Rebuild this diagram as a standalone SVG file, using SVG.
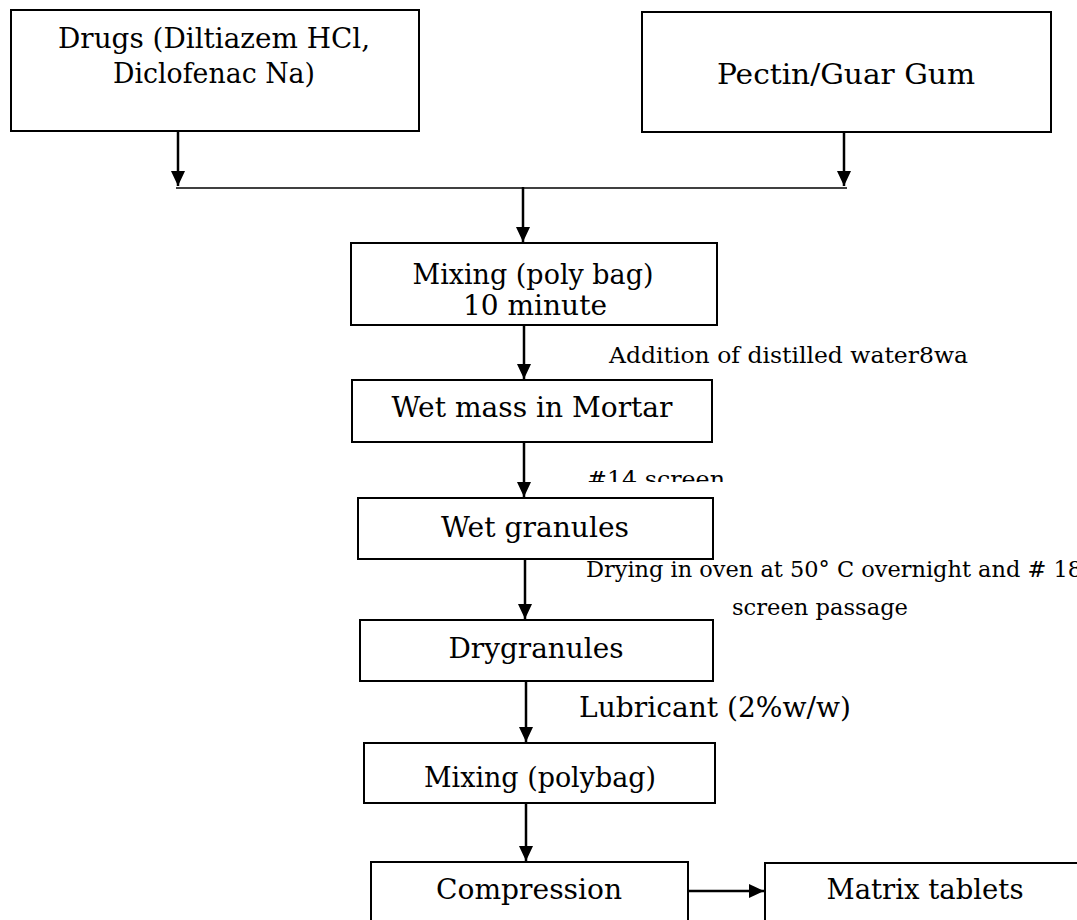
<svg xmlns="http://www.w3.org/2000/svg" width="1077" height="920" viewBox="0 0 1077 920">
<style>
.box{fill:#fff;stroke:#000;stroke-width:2}
.t{font-family:"DejaVu Serif","Liberation Serif",serif;font-size:27px;fill:#000}
.s{font-family:"DejaVu Serif","Liberation Serif",serif;font-size:22px;fill:#000}
.c{text-anchor:middle}
.ar{stroke:#000;stroke-width:2.5;fill:none;marker-end:url(#ah)}
.ln{stroke:#000;stroke-width:1.6;fill:none}
</style>
<defs>
<marker id="ah" markerUnits="userSpaceOnUse" markerWidth="16" markerHeight="16" viewBox="0 0 16 16" refX="15" refY="8" orient="auto">
<path d="M0,1 L15,8 L0,15 z" fill="#000"/>
</marker>
<clipPath id="clip14"><rect x="560" y="440" width="300" height="42"/></clipPath>
</defs>
<rect width="1077" height="920" fill="#fff"/>
<g id="connectors">
<line class="ar" x1="178" y1="131" x2="178" y2="186"/>
<line class="ar" x1="844" y1="132" x2="844" y2="186"/>
<line class="ln" x1="176" y1="188" x2="847" y2="188"/>
<line class="ar" x1="523" y1="187" x2="523" y2="242"/>
<line class="ar" x1="524" y1="325" x2="524" y2="379"/>
<line class="ar" x1="524" y1="442" x2="524" y2="497"/>
<line class="ar" x1="525" y1="559" x2="525" y2="619"/>
<line class="ar" x1="526" y1="681" x2="526" y2="742"/>
<line class="ar" x1="526" y1="803" x2="526" y2="861"/>
<line class="ar" x1="688" y1="891" x2="764" y2="891"/>
</g>
<g id="drugs">
<rect class="box" x="11" y="10" width="408" height="121"/>
<text class="t c" x="214" y="48" textLength="312" lengthAdjust="spacingAndGlyphs">Drugs (Diltiazem HCl,</text>
<text class="t c" x="214" y="83" textLength="202" lengthAdjust="spacingAndGlyphs">Diclofenac Na)</text>
</g>
<g id="pectin">
<rect class="box" x="642" y="12" width="409" height="120"/>
<text class="t c" x="846" y="84" textLength="258" lengthAdjust="spacingAndGlyphs">Pectin/Guar Gum</text>
</g>
<g id="mixing1">
<rect class="box" x="351" y="243" width="366" height="82"/>
<text class="t c" x="533" y="284" textLength="241" lengthAdjust="spacingAndGlyphs">Mixing (poly bag)</text>
<text class="t c" x="535" y="315" textLength="144" lengthAdjust="spacingAndGlyphs">10 minute</text>
</g>
<g id="label-water">
<text class="s" x="609" y="363" textLength="359" lengthAdjust="spacingAndGlyphs">Addition of distilled water8wa</text>
</g>
<g id="wetmass">
<rect class="box" x="352" y="380" width="360" height="62"/>
<text class="t c" x="532" y="417" textLength="281" lengthAdjust="spacingAndGlyphs">Wet mass in Mortar</text>
</g>
<g id="label-14">
<text class="s" x="587" y="487" textLength="138" lengthAdjust="spacingAndGlyphs" clip-path="url(#clip14)">#14 screen</text>
</g>
<g id="wetgranules">
<rect class="box" x="358" y="498" width="355" height="61"/>
<text class="t c" x="535" y="537" textLength="188" lengthAdjust="spacingAndGlyphs">Wet granules</text>
</g>
<g id="label-drying">
<text class="s" x="586" y="577" textLength="496" lengthAdjust="spacingAndGlyphs">Drying in oven at 50° C overnight and # 18</text>
<text class="s" x="732" y="615" textLength="176" lengthAdjust="spacingAndGlyphs">screen passage</text>
</g>
<g id="drygranules">
<rect class="box" x="360" y="620" width="353" height="61"/>
<text class="t c" x="536" y="658" textLength="175" lengthAdjust="spacingAndGlyphs">Drygranules</text>
</g>
<g id="label-lubricant">
<text class="t" x="579" y="717" textLength="272" lengthAdjust="spacingAndGlyphs">Lubricant (2%w/w)</text>
</g>
<g id="mixing2">
<rect class="box" x="364" y="743" width="351" height="60"/>
<text class="t c" x="540" y="787" textLength="232" lengthAdjust="spacingAndGlyphs">Mixing (polybag)</text>
</g>
<g id="compression">
<rect class="box" x="371" y="862" width="317" height="70"/>
<text class="t c" x="529" y="899" textLength="186" lengthAdjust="spacingAndGlyphs">Compression</text>
</g>
<g id="matrix">
<rect class="box" x="765" y="863" width="330" height="70"/>
<text class="t c" x="925" y="899" textLength="197" lengthAdjust="spacingAndGlyphs">Matrix tablets</text>
</g>
</svg>
